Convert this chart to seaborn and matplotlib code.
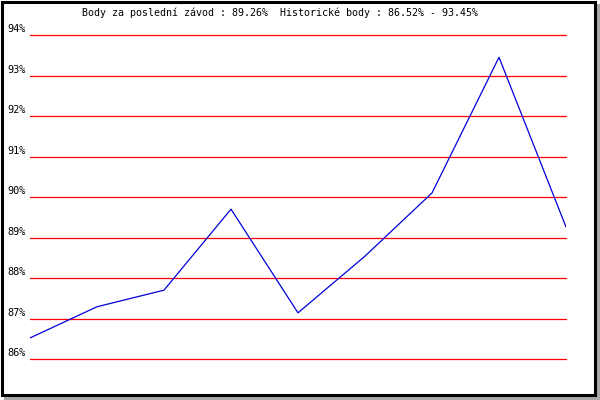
import matplotlib
matplotlib.use("Agg")
import matplotlib.pyplot as plt
import matplotlib.transforms as mtransforms
from matplotlib.patches import Rectangle
import pandas as pd
import seaborn as sns

# data
races = [1, 2, 3, 4, 5, 6, 7, 8, 9]
points = [86.52, 87.29, 87.70, 89.70, 87.14, 88.54, 90.10, 93.45, 89.26]
y_ticks = [86, 87, 88, 89, 90, 91, 92, 93, 94]
y_labels = ["86%", "87%", "88%", "89%", "90%", "91%", "92%", "93%", "94%"]
title = "Body za poslední závod : 89.26%  Historické body : 86.52% - 93.45%"

df = pd.DataFrame({"race": races, "points": points})

sns.set_style("white")
plt.rcParams["font.family"] = ["DejaVu Sans Mono"]

W, H = 600, 400
fig = plt.figure(figsize=(6, 4), dpi=100)
fig.patch.set_facecolor("white")

# shadow + black frame
fig.patches.append(Rectangle((4 / W, 0), 596 / W, 396 / H, transform=fig.transFigure,
                             facecolor="#a8a8a8", edgecolor="none", zorder=-2))
fig.patches.append(Rectangle((1.5 / W, 5.5 / H), 593 / W, 393 / H, transform=fig.transFigure,
                             facecolor="white", edgecolor="black", linewidth=2.2, zorder=-1))

ax = fig.add_axes([30 / W, (H - 359) / H, 536 / W, 324 / H])
ax.set_facecolor("none")

sns.lineplot(data=df, x="race", y="points", color="#0000dd", linewidth=0.9, ax=ax, zorder=3)

ax.set_xlim(races[0], races[-1])
ax.set_ylim(y_ticks[0], y_ticks[-1])
ax.set_yticks(y_ticks)
ax.set_yticklabels(y_labels)
ax.set_xticks([])
ax.set_xlabel("")
ax.set_ylabel("")
for s in ax.spines.values():
    s.set_visible(False)

ax.yaxis.grid(True, color="#ff0000", linewidth=0.9)
for gl in ax.yaxis.get_gridlines():
    gl.set_clip_on(False)
ax.set_axisbelow(True)
ax.tick_params(axis="y", length=0, pad=3, labelsize=7.4, colors="black")

# labels sit a little above their lines
offset = mtransforms.ScaledTranslation(0, 5 / 72, fig.dpi_scale_trans)
for lbl in ax.get_yticklabels():
    lbl.set_transform(lbl.get_transform() + offset)

fig.text(280 / W, 1 - 13 / H, title, ha="center", va="center", fontsize=7.2, color="black")

fig.savefig("out.png", dpi=100)
